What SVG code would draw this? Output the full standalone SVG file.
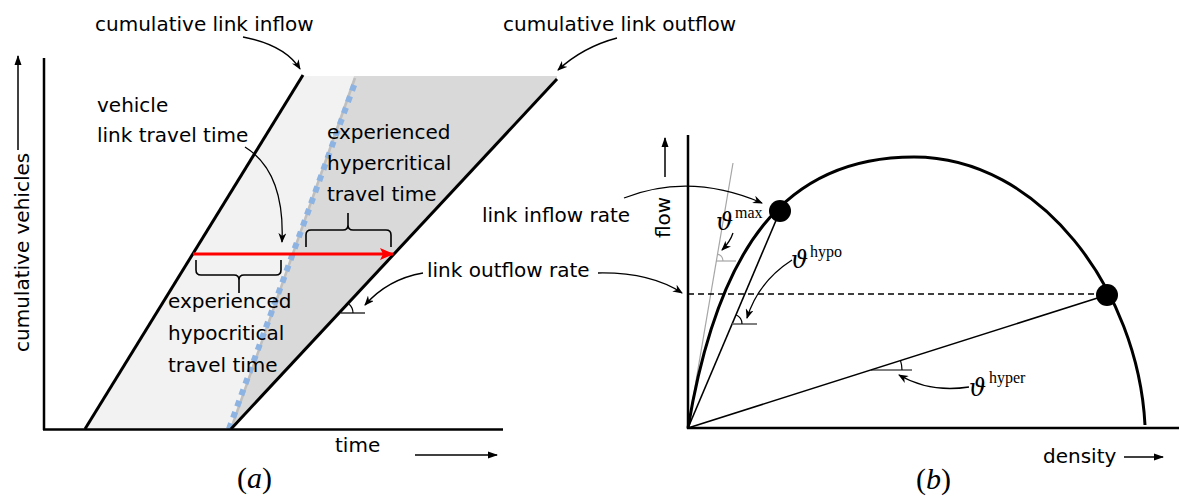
<svg xmlns="http://www.w3.org/2000/svg" width="1179" height="500" viewBox="0 0 1179 500">
<style>
.t{font-family:"DejaVu Sans","Liberation Sans",sans-serif;font-size:20px;fill:#000}
.m{font-family:"DejaVu Serif","Liberation Serif",serif;font-style:italic;font-size:24px;fill:#000}
.s{font-family:"Liberation Serif","DejaVu Serif",serif;font-size:16px;fill:#000}
.cap{font-family:"Liberation Serif","DejaVu Serif",serif;font-size:30px;fill:#000}
.ax{stroke:#000;stroke-width:2.5;fill:none}
.ar{stroke:#000;stroke-width:1.3;fill:none;marker-end:url(#ah)}
.axa{stroke:#000;stroke-width:1.5;fill:none;marker-end:url(#ah2)}
.thin{stroke:#000;stroke-width:1.6;fill:none}
.ang{stroke:#000;stroke-width:1.2;fill:none}
</style>
<defs>
<marker id="ah" markerWidth="10" markerHeight="8" refX="9" refY="4" orient="auto" markerUnits="userSpaceOnUse">
<path d="M0,0 L10,4 L0,8 L3,4 z" fill="#000"/>
</marker>
<marker id="ah2" markerWidth="10" markerHeight="8" refX="9" refY="4" orient="auto" markerUnits="userSpaceOnUse">
<path d="M0,0.5 L10,4 L0,7.5 z" fill="#000"/>
</marker>
<marker id="rh" markerWidth="14" markerHeight="12" refX="13" refY="6" orient="auto" markerUnits="userSpaceOnUse">
<path d="M0,0 L14,6 L0,12 L3,6 z" fill="#ff0000"/>
</marker>
</defs>

<g id="panel-a">
<g id="shading">
<polygon points="85,429 303,76 354,76 230,429" fill="#f2f2f2"/>
<polygon points="230,429 354,76 557,76 557,79 231,429" fill="#d9d9d9"/>
<line x1="231" y1="429" x2="355" y2="78" stroke="#bfbfbf" stroke-width="2.5"/>
<line x1="229" y1="429" x2="356" y2="80" stroke="#8db3e2" stroke-width="6" stroke-dasharray="6,6"/>
</g>
<g id="axes-a">
<line class="ax" x1="44" y1="58" x2="44" y2="430"/>
<line class="ax" x1="43" y1="429.5" x2="503" y2="429.5"/>
<line class="axa" x1="18" y1="150" x2="18" y2="56"/>
<line class="axa" x1="415" y1="455" x2="497" y2="455"/>
<text class="t" transform="translate(28.5,352) rotate(-90)">cumulative vehicles</text>
<text class="t" x="335" y="452">time</text>
</g>
<g id="inflow-curve">
<line x1="85" y1="429" x2="303" y2="75" stroke="#000" stroke-width="3"/>
</g>
<g id="outflow-curve">
<line x1="231" y1="429" x2="557" y2="79" stroke="#000" stroke-width="3"/>
</g>
<g id="label-inflow"><text class="t" x="95" y="31">cumulative link inflow</text></g>
<g id="label-outflow"><text class="t" x="503" y="31">cumulative link outflow</text></g>
<g id="label-vehicle"><text class="t" x="97" y="112">vehicle</text><text class="t" x="97" y="142">link travel time</text></g>
<g id="label-hyper"><text class="t" x="327" y="139">experienced</text><text class="t" x="327" y="170">hypercritical</text><text class="t" x="327" y="201">travel time</text></g>
<g id="label-hypo"><text class="t" x="168" y="308">experienced</text><text class="t" x="168" y="340">hypocritical</text><text class="t" x="168" y="372">travel time</text></g>
<g id="label-outrate-a"><text class="t" x="427" y="277">link outflow rate</text></g>
<g id="travel-time-arrow">
<line x1="193" y1="254" x2="393" y2="254" stroke="#ff0000" stroke-width="3" marker-end="url(#rh)"/>
</g>
<g id="braces">
<path class="thin" d="M306,247 L306,235 Q306,230 311,230 L343,230 Q348,230 348,225 L348,213 M348,225 Q348,230 353,230 L386,230 Q391,230 391,235 L391,247"/>
<path class="thin" d="M196,260 L196,270 Q196,275 201,275 L234,275 Q239,275 239,280 L239,293 M239,280 Q239,275 244,275 L276,275 Q281,275 281,270 L281,260"/>
</g>
<g id="angle-a">
<line class="ang" x1="341" y1="313" x2="365" y2="313"/>
<path class="ang" d="M353,313 A12,12 0 0 0 349.2,304.2"/>
</g>
<text class="cap" x="237" y="488">(<tspan font-style="italic">a</tspan>)</text>
</g>

<g id="panel-b">
<g id="axes-b">
<line class="ax" x1="688" y1="135" x2="688" y2="429"/>
<line class="ax" x1="687" y1="428" x2="1179" y2="428"/>
<line class="axa" x1="665" y1="177" x2="665" y2="138"/>
<line class="axa" x1="1124" y1="457" x2="1163" y2="457"/>
<text class="t" transform="translate(669.5,238) rotate(-90)">flow</text>
<text class="t" x="1043" y="463">density</text>
</g>
<g id="tangent">
<line x1="688" y1="428" x2="733" y2="163" stroke="#a6a6a6" stroke-width="1.2"/>
<line x1="716" y1="261" x2="736" y2="261" stroke="#a6a6a6" stroke-width="1.2"/>
<path d="M723,261 A7,7 0 0 0 717.2,254.1" stroke="#a6a6a6" stroke-width="1.2" fill="none"/>
</g>
<g id="fd-curve">
<path d="M688,428 C718,248 784,157 914,157 C1040,157 1138,290 1145,425" stroke="#000" stroke-width="3" fill="none"/>
</g>
<g id="chords">
<line class="thin" x1="688" y1="428" x2="780" y2="211"/>
<line class="thin" x1="688" y1="428" x2="1107" y2="295"/>
<line x1="688" y1="294" x2="1105" y2="294" stroke="#000" stroke-width="1.3" stroke-dasharray="6,4"/>
</g>
<g id="angle-hypo">
<line x1="732" y1="324" x2="757" y2="324" stroke="#555" stroke-width="1.5"/>
<path class="ang" d="M742,324 A10,10 0 0 0 735.9,314.8"/>
</g>
<g id="angle-hyper">
<line class="ang" x1="871" y1="370" x2="912" y2="370"/>
<path class="ang" d="M902,370 A31,31 0 0 0 900.5,360.6"/>
</g>
<g id="dot-max"><circle cx="780" cy="211" r="11" fill="#000"/></g>
<g id="dot-hyper"><circle cx="1107" cy="295" r="11" fill="#000"/></g>
<g id="label-inrate"><text class="t" x="482" y="222">link inflow rate</text></g>
<g id="theta-max"><text class="m" x="716" y="230">ϑ</text><text class="s" x="735" y="218">max</text></g>
<g id="theta-hypo"><text class="m" x="791" y="268">ϑ</text><text class="s" x="810" y="257">hypo</text></g>
<g id="theta-hyper"><text class="m" x="969" y="396">ϑ</text><text class="s" x="989" y="383">hyper</text></g>
<text class="cap" x="916" y="489">(<tspan font-style="italic">b</tspan>)</text>
</g>

<g id="connectors">
<path class="ar" d="M243,37 Q285,45 300,69"/>
<path class="ar" d="M617,38 Q583,47 558,70"/>
<path class="ar" d="M245,147 Q285,172 282,242"/>
<path class="ar" d="M423,273 Q388,279 365,305"/>
<path class="ar" d="M624,198 Q690,172 762,203"/>
<path class="ar" d="M598,273 Q650,272 682,293"/>
<path class="ar" d="M733,233 Q730,242 722,250"/>
<path class="ar" d="M792,260 Q758,282 747,318"/>
<path class="ar" d="M969,387 Q930,393 899,375"/>
</g>
</svg>
